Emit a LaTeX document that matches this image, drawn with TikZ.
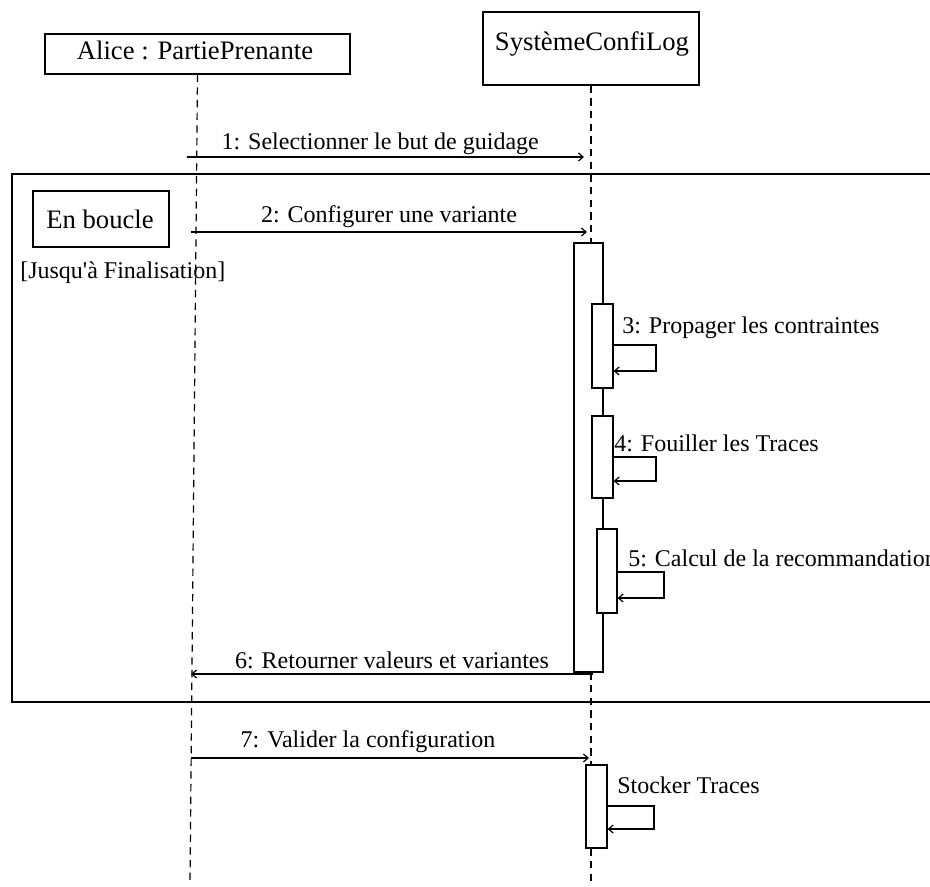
\documentclass[tikz,border=0pt]{standalone}
\usepackage{fontspec}
\setmainfont{Liberation Serif}
\usetikzlibrary{arrows.meta,fit}
\begin{document}
\begin{tikzpicture}[x=0.75pt,y=-0.75pt,
  box/.style={draw, line width=0.9pt, inner sep=0pt},
  actbox/.style={draw, line width=0.9pt, inner sep=0pt, fill=white},
  life/.style={dash pattern=on 5.5pt off 4pt, line width=0.9pt},
  msg/.style={line width=0.9pt, -{Straight Barb[length=3.5pt,width=6pt]}},
  mtxt/.style={font=\fontsize{18}{20}\selectfont, inner sep=0pt},
  btxt/.style={font=\fontsize{20}{22}\selectfont, inner sep=0pt, anchor=base},
  lab/.style={mtxt, anchor=base}]
\useasboundingbox (0,0) rectangle (930,886);
\clip (0,0) rectangle (930,886);

% loop frame
\node[box, line width=1.2pt, fit={(12,174) (945,702)}] (loop) {};
\node[box, fit={(33,191) (169,247)}] (enb) {};
\node[btxt] (enbtxt) at (100,228) {En boucle};
\node[mtxt, anchor=west] (guard) at (20,273) {[Jusqu\textquotesingle à Finalisation]};

% participants
\node[box, fit={(45,34) (350,74)}] (alice) {};
\node[btxt] (alicetxt) at (195,59) {Alice : PartiePrenante};
\node[box, fit={(483,12) (699,85)}] (sys) {};
\node[btxt] (systxt) at (592,50) {SystèmeConfiLog};

% coordinates
\coordinate (aend) at (190,882);
\coordinate (send) at (591,882);
\coordinate (m1s) at (187,157); \coordinate (m1e) at (584,157);
\coordinate (m2s) at (191,232); \coordinate (m2e) at (587,232);
\coordinate (m6s) at (593,674); \coordinate (m6e) at (191,674);
\coordinate (m7s) at (191,758); \coordinate (m7e) at (589,758);

% activations (positions)
\node[fit={(574,243) (603,672)}, inner sep=0pt] (act1) {};
\node[fit={(586,765) (607,848)}, inner sep=0pt] (act7) {};

% lifelines
\draw[life] (alice.south) -- (aend);
\draw[life] (sys.south) -- (sys.south |- act1.north);
\draw[life] (sys.south |- act1.south) -- (sys.south |- act7.north);
\draw[life] (sys.south |- act7.south) -- (send);

% messages
\draw[msg] (m1s) -- node[lab, xshift=-4pt, yshift=6pt] {1: Selectionner le but de guidage} (m1e);
\draw[msg] (m2s) -- node[lab, yshift=7.5pt] {2: Configurer une variante} (m2e);
\draw[msg] (m7s) -- node[lab, xshift=-16.5pt, yshift=8pt] {7: Valider la configuration} (m7e);

% activation boxes
\node[actbox, fit={(574,243) (603,672)}] (act1b) {};
\draw[msg] (m6s) -- node[lab, yshift=4.5pt] {6: Retourner valeurs et variantes} (m6e);
\node[actbox, fit={(592,304) (613,388)}] (act3) {};
\node[actbox, fit={(592,416) (613,498)}] (act4) {};
\node[actbox, fit={(597,529) (617,613)}] (act5) {};
\node[actbox, fit={(586,765) (607,848)}] (act7b) {};

% self messages
\draw[msg] (act3.east |- 0,345) -| (656,358) |- (act3.east |- 0,371);
\node[mtxt, anchor=west] (l3) at (622,328) {3: Propager les contraintes};
\draw[msg] (act4.east |- 0,457) -| (656,469) |- (act4.east |- 0,481);
\node[mtxt, anchor=west] (l4) at (614,443) {4: Fouiller les Traces};
\draw[msg] (act5.east |- 0,572) -| (664,585) |- (act5.east |- 0,598);
\node[mtxt, anchor=west] (l5) at (628,558) {5: Calcul de la recommandation};
\draw[msg] (act7b.east |- 0,806) -| (654,817) |- (act7b.east |- 0,829);
\node[mtxt, anchor=west] (l7) at (617,785) {Stocker Traces};
\end{tikzpicture}
\end{document}
